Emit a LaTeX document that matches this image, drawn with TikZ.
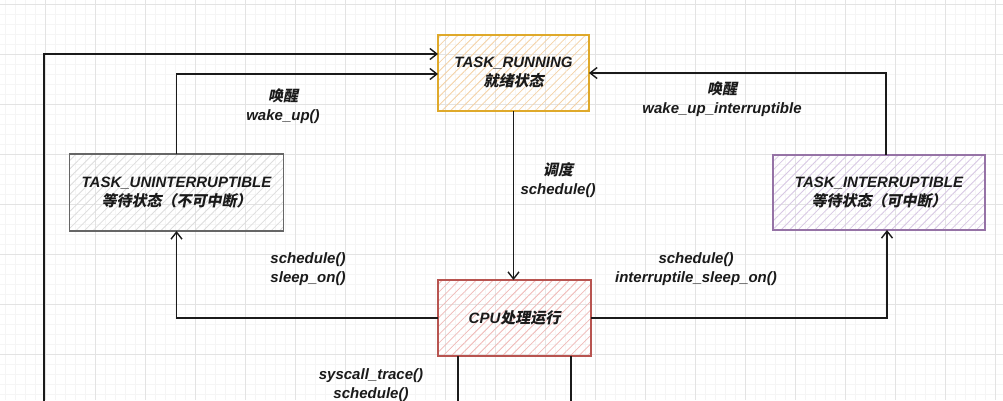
\documentclass[tikz,border=0pt]{standalone}
\usepackage{fontspec}
\setmainfont{Liberation Sans}
\newfontfamily\cjk[FakeSlant=0.2]{Noto Sans CJK SC}
\usetikzlibrary{arrows.meta,patterns.meta}
\definecolor{runD}{HTML}{DFA92A}
\definecolor{runH}{HTML}{F4D2A6}
\definecolor{graD}{HTML}{666666}
\definecolor{graH}{HTML}{DDDDDD}
\definecolor{purD}{HTML}{9673A6}
\definecolor{purH}{HTML}{D8C8E4}
\definecolor{redD}{HTML}{B85450}
\definecolor{redH}{HTML}{F0BAB8}
\definecolor{txt}{HTML}{1A1A1A}
\tikzset{
  minorgrid/.style={draw=black!4, line width=0.5pt},
  majorgrid/.style={draw=black!11, line width=0.6pt},
  box/.style={draw, line width=1.4pt, inner sep=0pt, outer sep=0pt, align=center,
    text=txt, font=\fontsize{15}{19}\selectfont\bfseries\itshape},
  hatch/.style={pattern={Lines[angle=45,distance=6pt,line width=0.8pt]}, pattern color=#1},
  lbl/.style={align=center, text=txt, inner sep=0pt, font=\fontsize{15}{18.5}\selectfont\bfseries\itshape},
  arr/.style={line width=1.5pt, draw=txt, -{Straight Barb[length=7pt,width=11pt,line width=1.4pt]}},
  ln/.style={line width=1.5pt, draw=txt}
}
\begin{document}
\begin{tikzpicture}[x=1pt,y=-1pt]
\useasboundingbox (0,0) rectangle (1003,400);
\fill[white] (0,0) rectangle (1003,400);
% grid
\foreach \gx in {5,15,...,1005} \draw[minorgrid] (\gx,0) -- (\gx,400);
\foreach \gy in {4,14,...,404} \draw[minorgrid] (0,\gy) -- (1003,\gy);
\foreach \gx in {45,95,...,1005} \draw[majorgrid] (\gx,0) -- (\gx,400);
\foreach \gy in {4,54,...,404} \draw[majorgrid] (0,\gy) -- (1003,\gy);

% boxes
\node[box, draw=runD, hatch=runH, minimum width=151pt, minimum height=76pt] (run) at (513.5,73)
  {TASK\_RUNNING\\{\cjk 就绪状态}};
\node[box, draw=graD, hatch=graH, minimum width=214pt, minimum height=77pt] (unint) at (176.5,192.5)
  {TASK\_UNINTERRUPTIBLE\\{\cjk 等待状态（不可中断）}};
\node[box, draw=purD, hatch=purH, minimum width=212pt, minimum height=75pt] (int) at (879,192.5)
  {TASK\_INTERRUPTIBLE\\{\cjk 等待状态（可中断）}};
\node[box, draw=redD, hatch=redH, minimum width=153pt, minimum height=76pt] (cpu) at (514.5,318)
  {CPU{\cjk 处理运行}};

% free ends
\coordinate (leftend) at (44,410);
\coordinate (sysA) at (458,410);
\coordinate (sysB) at (571,410);

% connectors
\draw[arr] (leftend) |- ([yshift=19pt]run.west);
\draw[arr] (unint.north) |- ([yshift=-1pt]run.west);
\draw[arr] ([xshift=7pt]int.north) |- (run.east);
\draw[arr] (run.south) -- (run.south |- cpu.north);
\draw[arr] (cpu.west) -| (unint.south);
\draw[arr] (cpu.east) -| ([xshift=8pt]int.south);
\draw[ln] (sysA |- cpu.south) -- (sysA);
\draw[ln] (sysB |- cpu.south) -- (sysB);

% labels
\node[lbl] (l1) at (283,106) {{\cjk 唤醒}\\wake\_up()};
\node[lbl] (l2) at (722,99) {{\cjk 唤醒}\\wake\_up\_interruptible};
\node[lbl] (l3) at (558,180) {{\cjk 调度}\\schedule()};
\node[lbl] (l4) at (308,269) {schedule()\\sleep\_on()};
\node[lbl] (l5) at (696,269) {schedule()\\interruptile\_sleep\_on()};
\node[lbl] (l6) at (371,385) {syscall\_trace()\\schedule()};
\end{tikzpicture}
\end{document}
